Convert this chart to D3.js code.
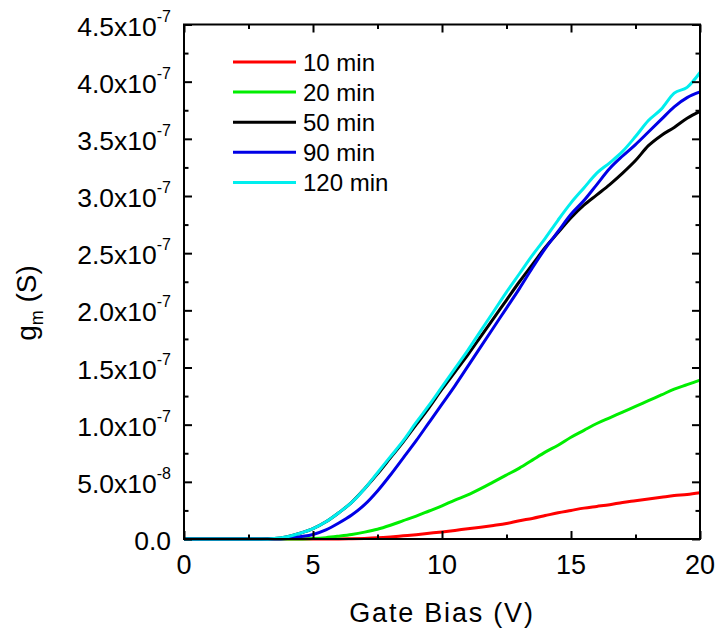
<!DOCTYPE html>
<html>
<head>
<meta charset="utf-8">
<script src="https://cdn.jsdelivr.net/npm/d3@7"></script>
<style>
  html, body { margin: 0; padding: 0; background: #fff; }
  svg { display: block; font-family: "Liberation Sans", Arial, Helvetica, sans-serif; }
</style>
</head>
<body>
<svg id="chart" width="718" height="632"></svg>
<script>
// Gate bias sweep (V)
const gateBias = [0,0.5,1,1.5,2,2.5,3,3.5,4,4.5,5,5.5,6,6.5,7,7.5,8,8.5,9,9.5,10,
                  10.5,11,11.5,12,12.5,13,13.5,14,14.5,15,15.5,16,16.5,17,17.5,18,18.5,19,19.5,20];

// Transconductance g_m, in units of 1e-7 S, one array per anneal time
const gm10 = [0,0,0,0,0,0,0,0,0,0,0,0,0,0.002,0.005,0.01,0.018,0.028,0.038,0.05,0.062,
              0.075,0.09,0.103,0.118,0.135,0.16,0.18,0.205,0.23,0.25,0.27,0.285,0.30,0.32,0.335,0.35,0.365,0.38,0.39,0.405];
const gm20 = [0,0,0,0,0,0,0,0,0,0,0.004,0.012,0.025,0.04,0.06,0.085,0.12,0.16,0.20,0.245,0.29,
              0.34,0.385,0.44,0.50,0.56,0.62,0.69,0.76,0.82,0.89,0.95,1.01,1.06,1.11,1.16,1.21,1.26,1.31,1.35,1.39];
const gm50 = [0,0,0,0,0,0,0,0.004,0.02,0.05,0.09,0.15,0.23,0.32,0.44,0.57,0.71,0.85,1.00,1.15,1.31,
              1.46,1.61,1.77,1.93,2.09,2.25,2.40,2.55,2.68,2.81,2.92,3.01,3.10,3.20,3.31,3.44,3.53,3.60,3.68,3.74];
const gm90 = [0,0,0,0,0,0,0,0,0.005,0.02,0.04,0.08,0.14,0.21,0.30,0.42,0.56,0.71,0.86,1.02,1.18,
              1.34,1.51,1.68,1.85,2.02,2.19,2.37,2.54,2.69,2.84,2.96,3.10,3.24,3.35,3.45,3.56,3.67,3.78,3.86,3.91];
const gm120 = [0,0,0,0,0,0,0,0.005,0.02,0.05,0.09,0.15,0.23,0.32,0.44,0.58,0.72,0.86,1.02,1.17,1.33,
               1.49,1.65,1.82,1.99,2.16,2.32,2.48,2.63,2.79,2.94,3.07,3.20,3.29,3.39,3.52,3.66,3.76,3.90,3.95,4.08];

const seriesNames = ["10 min", "20 min", "50 min", "90 min", "120 min"];
const seriesColors = ["#ff0000", "#00ee00", "#000000", "#0000e6", "#00eeee"];
const seriesValues = [gm10, gm20, gm50, gm90, gm120];

// Axis ticks
const xTicks = [0, 5, 10, 15, 20];
const xMinor = [2.5, 7.5, 12.5, 17.5];
const yTicks = [0, 0.5, 1.0, 1.5, 2.0, 2.5, 3.0, 3.5, 4.0, 4.5];
const yMinor = [0.25, 0.75, 1.25, 1.75, 2.25, 2.75, 3.25, 3.75, 4.25];
const yTickMantissa = ["0.0", "5.0x10", "1.0x10", "1.5x10", "2.0x10", "2.5x10", "3.0x10", "3.5x10", "4.0x10", "4.5x10"];
const yTickExponent = ["", "-8", "-7", "-7", "-7", "-7", "-7", "-7", "-7", "-7"];

const svg = d3.select("#chart");
const x = d3.scaleLinear().domain([0, 20]).range([184, 700]);
const y = d3.scaleLinear().domain([0, 4.5]).range([539, 24.5]);

// Curves
const line = d3.line()
  .x((d, i) => x(gateBias[i]))
  .y(d => y(d))
  .curve(d3.curveMonotoneX);

svg.append("g").selectAll("path")
  .data(seriesValues)
  .join("path")
  .attr("d", d => line(d))
  .attr("fill", "none")
  .attr("stroke", (d, i) => seriesColors[i])
  .attr("stroke-width", 3)
  .attr("stroke-linejoin", "round");

// Frame with inward ticks on all four sides
function drawAxis(axisGen, tx, ty, values, size) {
  const g = svg.append("g").attr("transform", `translate(${tx},${ty})`)
    .call(axisGen.tickValues(values).tickSize(size).tickFormat(""));
  g.select(".domain").remove();
  g.selectAll(".tick line").attr("stroke", "#000").attr("stroke-width", 2);
  return g;
}
drawAxis(d3.axisBottom(x), 0, 539, xTicks, -8);
drawAxis(d3.axisBottom(x), 0, 539, xMinor, -4.5);
drawAxis(d3.axisTop(x), 0, 24.5, xTicks, -8);
drawAxis(d3.axisTop(x), 0, 24.5, xMinor, -4.5);
drawAxis(d3.axisLeft(y), 184, 0, yTicks, -8);
drawAxis(d3.axisLeft(y), 184, 0, yMinor, -4.5);
drawAxis(d3.axisRight(y), 700, 0, yTicks, -8);
drawAxis(d3.axisRight(y), 700, 0, yMinor, -4.5);

svg.append("rect")
  .attr("x", x(0)).attr("y", y(4.5))
  .attr("width", x(20) - x(0)).attr("height", y(0) - y(4.5))
  .attr("fill", "none").attr("stroke", "#000").attr("stroke-width", 2);

// X tick labels
svg.append("g").selectAll("text")
  .data(xTicks)
  .join("text")
  .attr("x", d => x(d))
  .attr("y", 574)
  .attr("text-anchor", "middle")
  .attr("font-size", 27)
  .text(d => d);

// Y tick labels with superscript exponents
const yl = svg.append("g").selectAll("text")
  .data(yTicks)
  .join("text")
  .attr("x", 171)
  .attr("y", d => y(d) + 11)
  .attr("text-anchor", "end")
  .attr("font-size", 26.5);
yl.append("tspan").text((d, i) => yTickMantissa[i]);
yl.filter((d, i) => yTickExponent[i] !== "")
  .append("tspan")
  .attr("font-size", 16)
  .attr("dy", -14)
  .text(d => yTickExponent[yTicks.indexOf(d)]);

// Axis titles
svg.append("text")
  .attr("x", 442).attr("y", 622)
  .attr("text-anchor", "middle")
  .attr("font-size", 27)
  .attr("letter-spacing", 1.8)
  .text("Gate Bias (V)");

const yt = svg.append("text")
  .attr("transform", "translate(36,303) rotate(-90)")
  .attr("text-anchor", "middle")
  .attr("font-size", 28);
yt.append("tspan").text("g");
yt.append("tspan").attr("font-size", 18).attr("dy", 7).text("m");
yt.append("tspan").attr("dy", -7).text(" (S)");

// Legend
const legend = svg.append("g").selectAll("g")
  .data(seriesNames)
  .join("g")
  .attr("transform", (d, i) => `translate(0,${62 + i * 30.1})`);
legend.append("line")
  .attr("x1", 233).attr("x2", 296)
  .attr("stroke", (d, i) => seriesColors[i])
  .attr("stroke-width", 3);
legend.append("text")
  .attr("x", 303).attr("y", 8.5)
  .attr("font-size", 24)
  .text(d => d);
</script>
</body>
</html>
